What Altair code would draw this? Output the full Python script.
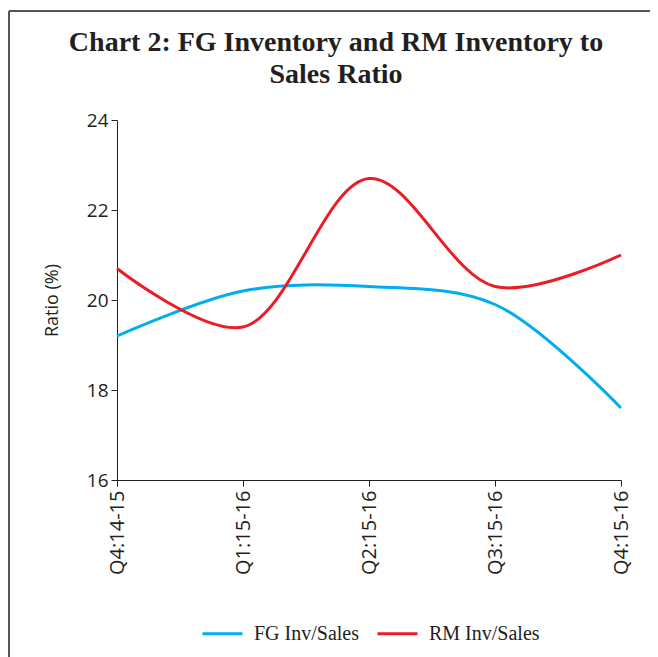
import altair as alt
import pandas as pd

quarters = ["Q4:14-15", "Q1:15-16", "Q2:15-16", "Q3:15-16", "Q4:15-16"]
fg_values = [19.2, 20.2, 20.3, 19.9, 17.6]
rm_values = [20.7, 19.4, 22.7, 20.3, 21.0]
series_names = ["FG Inv/Sales", "RM Inv/Sales"]
series_colors = ["#00AEEF", "#ED1C24"]
y_ticks = [16, 18, 20, 22, 24]

rows = []
for q, v in zip(quarters, fg_values):
    rows.append({"quarter": q, "value": v, "series": series_names[0]})
for q, v in zip(quarters, rm_values):
    rows.append({"quarter": q, "value": v, "series": series_names[1]})
df = pd.DataFrame(rows)

sans = "Open Sans"
serif = "Liberation Serif"

lines = alt.Chart(df).mark_line(interpolate="catmull-rom", strokeWidth=3).encode(
    x=alt.X("quarter:N", sort=quarters, scale=alt.Scale(padding=0),
            axis=alt.Axis(title=None, labelAngle=-90, labelFont=sans, labelFontSize=20,
                          labelColor="#231F20", domainColor="#231F20", tickColor="#231F20",
                          tickSize=6, labelPadding=4, grid=False)),
    y=alt.Y("value:Q", scale=alt.Scale(domain=[16, 24], nice=False, zero=False),
            axis=alt.Axis(values=y_ticks, title="Ratio (%)", titleFont=sans, titleFontSize=18,
                          titleFontWeight="normal", titleColor="#231F20", titlePadding=25,
                          labelFont=sans, labelFontSize=19, labelColor="#231F20",
                          domainColor="#231F20", tickColor="#231F20", tickSize=6,
                          labelPadding=3, grid=False)),
    color=alt.Color("series:N", sort=series_names,
                    scale=alt.Scale(domain=series_names, range=series_colors),
                    legend=alt.Legend(title=None, orient="none", direction="horizontal",
                                      legendX=84, legendY=492, symbolType="stroke",
                                      symbolSize=1600, symbolStrokeWidth=3,
                                      labelFont=serif, labelFontSize=20, labelColor="#231F20",
                                      columnPadding=12, labelOffset=10)),
)

frame_top = alt.Chart(df).mark_rule(color="#555555", strokeWidth=2).encode(
    x=alt.value(-108), x2=alt.value(560), y=alt.value(-109)
)
frame_left = alt.Chart(df).mark_rule(color="#555555", strokeWidth=2).encode(
    x=alt.value(-108), y=alt.value(-109), y2=alt.value(560)
)

chart = alt.layer(lines, frame_top, frame_left).properties(
    width=504,
    height=360,
    autosize=alt.AutoSizeParams(type="none"),
    padding={"left": 109, "top": 112, "right": 29, "bottom": 177},
    title=alt.TitleParams(
        text=["Chart 2: FG Inventory and RM Inventory to", "Sales Ratio"],
        font=serif, fontSize=28, fontWeight="bold", color="#231F20",
        anchor="middle", frame="group", dx=-33, offset=-79, lineHeight=32,
    ),
).configure_view(stroke=None)

chart.save("out.html", embed_options={"renderer": "svg", "actions": False})
